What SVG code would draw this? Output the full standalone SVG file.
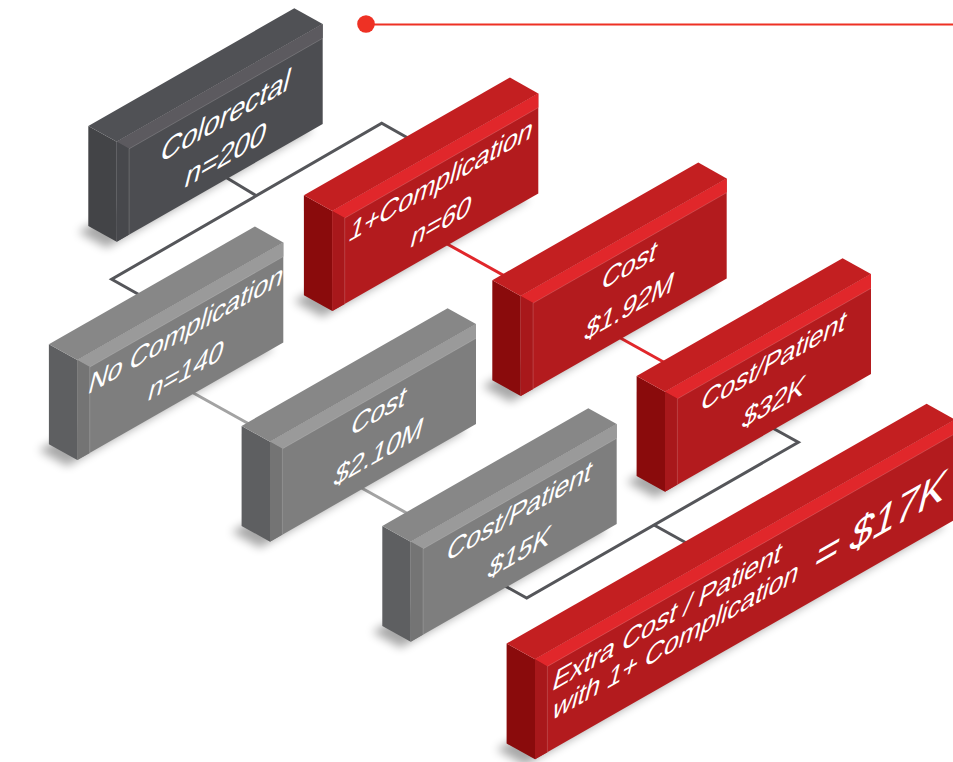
<svg xmlns="http://www.w3.org/2000/svg" width="953" height="762" viewBox="0 0 953 762">
<defs>
<filter id="soft" x="-20%" y="-20%" width="140%" height="140%"><feGaussianBlur stdDeviation="5"/></filter>
<style>
.shadow{fill:#000;opacity:.34;filter:url(#soft)}
.d .lf{fill:#434447}.d .tp{fill:#505155}.d .fr{fill:#4c4d51}.d .bd{fill:#5c5a5f}.d .st{fill:#47484c}
.g .lf{fill:#5e5f61}.g .tp{fill:#878787}.g .fr{fill:#7e7e7e}.g .bd{fill:#9a9a9a}.g .st{fill:#747474}
.r .lf{fill:#8a0b0c}.r .tp{fill:#c31f21}.r .fr{fill:#b31b1e}.r .bd{fill:#e1272b}.r .st{fill:#a8181b}
.edge{fill:none;stroke:#fff;stroke-opacity:.22;stroke-width:.8}
.lbl{font-family:"Liberation Sans",Arial,sans-serif;fill:#fff;text-anchor:middle}
.ls{text-anchor:start}
.conn{fill:none;stroke-width:3;stroke-linejoin:miter}
.cd{stroke:#55565a}.cg{stroke:#a3a3a3}.cr{stroke:#e1272b}
</style>
</defs>
<rect width="953" height="762" fill="#fff"/>

<g id="connectors">
<line x1="366" y1="24.5" x2="953" y2="24.5" stroke="#ee3124" stroke-width="2.2"/>
<circle cx="366" cy="24" r="8.8" fill="#ee3124"/>
<polyline class="conn cd" points="145,298 111.7,279.3 381.7,123.3 415,142"/>
<line class="conn cd" x1="222" y1="175" x2="256.3" y2="195.7"/>
<line class="conn cr" x1="440" y1="240" x2="510" y2="278.9"/>
<line class="conn cr" x1="615" y1="335" x2="668" y2="364.5"/>
<line class="conn cg" x1="188" y1="390" x2="250" y2="424.5"/>
<line class="conn cg" x1="358" y1="486" x2="415" y2="517.7"/>
<polyline class="conn cd" points="768,425.5 798.3,442.3 526.7,598 500,583.2"/>
<line class="conn cd" x1="654" y1="525" x2="690" y2="545"/>
</g>

<g id="colorectal" class="d" transform="translate(116.7,141.7)">
<polygon class="shadow" points="-10,106 196,-11.6 167.6,-27.4 -38.4,90.2"/>
<polygon class="lf" points="-28.4,-15.8 0,0 0,100 -28.4,84.2"/>
<polygon class="tp" points="-28.4,-15.8 177.6,-133.4 206,-117.6 0,0"/>
<polygon class="fr" points="0,0 206,-117.6 206,-17.6 0,100"/>
<polygon class="bd" points="0,0 206,-117.6 206,-103.4 12.4,7.1"/>
<polygon class="st" points="0,0 12.4,7.1 12.4,92.9 0,100"/>
<polyline class="edge" points="12.4,92.9 12.4,7.1 206,-103.4"/>
<text class="lbl" font-size="33" transform="matrix(0.8686,-0.4955,-0.25,1,106.5,-15)">Colorectal</text>
<text class="lbl" font-size="33" transform="matrix(0.8686,-0.4955,-0.25,1,106.5,24)">n=200</text>
</g>

<g id="one-plus-complication" class="r" transform="translate(332.3,211)">
<polygon class="shadow" points="-10,106 196,-11.6 167.6,-27.4 -38.4,90.2"/>
<polygon class="lf" points="-28.4,-15.8 0,0 0,100 -28.4,84.2"/>
<polygon class="tp" points="-28.4,-15.8 177.6,-133.4 206,-117.6 0,0"/>
<polygon class="fr" points="0,0 206,-117.6 206,-17.6 0,100"/>
<polygon class="bd" points="0,0 206,-117.6 206,-103.4 12.4,7.1"/>
<polygon class="st" points="0,0 12.4,7.1 12.4,92.9 0,100"/>
<polyline class="edge" points="12.4,92.9 12.4,7.1 206,-103.4"/>
<text class="lbl" font-size="30.5" transform="matrix(0.8686,-0.4955,-0.25,1,106.5,-20.5)">1+Complication</text>
<text class="lbl" font-size="30.5" transform="matrix(0.8686,-0.4955,-0.25,1,106.5,20.5)">n=60</text>
</g>

<g id="no-complication" class="g" transform="translate(77.3,360)">
<polygon class="shadow" points="-10,106 196,-11.6 167.6,-27.4 -38.4,90.2"/>
<polygon class="lf" points="-28.4,-15.8 0,0 0,100 -28.4,84.2"/>
<polygon class="tp" points="-28.4,-15.8 177.6,-133.4 206,-117.6 0,0"/>
<polygon class="fr" points="0,0 206,-117.6 206,-17.6 0,100"/>
<polygon class="bd" points="0,0 206,-117.6 206,-103.4 12.4,7.1"/>
<polygon class="st" points="0,0 12.4,7.1 12.4,92.9 0,100"/>
<polyline class="edge" points="12.4,92.9 12.4,7.1 206,-103.4"/>
<text class="lbl" font-size="30.5" transform="matrix(0.8686,-0.4955,-0.25,1,106.5,-20.5)">No Complication</text>
<text class="lbl" font-size="30.5" transform="matrix(0.8686,-0.4955,-0.25,1,106.5,20.5)">n=140</text>
</g>

<g id="cost-complication" class="r" transform="translate(520.7,296)">
<polygon class="shadow" points="-10,106 196,-11.6 167.6,-27.4 -38.4,90.2"/>
<polygon class="lf" points="-28.4,-15.8 0,0 0,100 -28.4,84.2"/>
<polygon class="tp" points="-28.4,-15.8 177.6,-133.4 206,-117.6 0,0"/>
<polygon class="fr" points="0,0 206,-117.6 206,-17.6 0,100"/>
<polygon class="bd" points="0,0 206,-117.6 206,-103.4 12.4,7.1"/>
<polygon class="st" points="0,0 12.4,7.1 12.4,92.9 0,100"/>
<polyline class="edge" points="12.4,92.9 12.4,7.1 206,-103.4"/>
<text class="lbl" font-size="30.5" transform="matrix(0.8686,-0.4955,-0.25,1,106.5,-20.5)">Cost</text>
<text class="lbl" font-size="30.5" transform="matrix(0.8686,-0.4955,-0.25,1,106.5,20.5)">$1.92M</text>
</g>

<g id="cost-no-complication" class="g" transform="translate(270,441.7)">
<polygon class="shadow" points="-10,106 196,-11.6 167.6,-27.4 -38.4,90.2"/>
<polygon class="lf" points="-28.4,-15.8 0,0 0,100 -28.4,84.2"/>
<polygon class="tp" points="-28.4,-15.8 177.6,-133.4 206,-117.6 0,0"/>
<polygon class="fr" points="0,0 206,-117.6 206,-17.6 0,100"/>
<polygon class="bd" points="0,0 206,-117.6 206,-103.4 12.4,7.1"/>
<polygon class="st" points="0,0 12.4,7.1 12.4,92.9 0,100"/>
<polyline class="edge" points="12.4,92.9 12.4,7.1 206,-103.4"/>
<text class="lbl" font-size="30.5" transform="matrix(0.8686,-0.4955,-0.25,1,106.5,-20.5)">Cost</text>
<text class="lbl" font-size="30.5" transform="matrix(0.8686,-0.4955,-0.25,1,106.5,20.5)">$2.10M</text>
</g>

<g id="cost-patient-complication" class="r" transform="translate(665,391.7)">
<polygon class="shadow" points="-10,106 196,-11.6 167.6,-27.4 -38.4,90.2"/>
<polygon class="lf" points="-28.4,-15.8 0,0 0,100 -28.4,84.2"/>
<polygon class="tp" points="-28.4,-15.8 177.6,-133.4 206,-117.6 0,0"/>
<polygon class="fr" points="0,0 206,-117.6 206,-17.6 0,100"/>
<polygon class="bd" points="0,0 206,-117.6 206,-103.4 12.4,7.1"/>
<polygon class="st" points="0,0 12.4,7.1 12.4,92.9 0,100"/>
<polyline class="edge" points="12.4,92.9 12.4,7.1 206,-103.4"/>
<text class="lbl" font-size="30.5" transform="matrix(0.8686,-0.4955,-0.25,1,106.5,-20.5)">Cost/Patient</text>
<text class="lbl" font-size="30.5" transform="matrix(0.8686,-0.4955,-0.25,1,106.5,20.5)">$32K</text>
</g>

<g id="cost-patient-no-complication" class="g" transform="translate(410.7,541.7)">
<polygon class="shadow" points="-10,106 196,-11.6 167.6,-27.4 -38.4,90.2"/>
<polygon class="lf" points="-28.4,-15.8 0,0 0,100 -28.4,84.2"/>
<polygon class="tp" points="-28.4,-15.8 177.6,-133.4 206,-117.6 0,0"/>
<polygon class="fr" points="0,0 206,-117.6 206,-17.6 0,100"/>
<polygon class="bd" points="0,0 206,-117.6 206,-103.4 12.4,7.1"/>
<polygon class="st" points="0,0 12.4,7.1 12.4,92.9 0,100"/>
<polyline class="edge" points="12.4,92.9 12.4,7.1 206,-103.4"/>
<text class="lbl" font-size="30.5" transform="matrix(0.8686,-0.4955,-0.25,1,106.5,-20.5)">Cost/Patient</text>
<text class="lbl" font-size="30.5" transform="matrix(0.8686,-0.4955,-0.25,1,106.5,20.5)">$15K</text>
</g>

<g id="extra-cost" class="r" transform="translate(535,659.3)">
<polygon class="shadow" points="-10,106 410,-133.8 381.6,-149.6 -38.4,90.2"/>
<polygon class="lf" points="-28.4,-15.8 0,0 0,100 -28.4,84.2"/>
<polygon class="tp" points="-28.4,-15.8 391.6,-255.6 420,-239.8 0,0"/>
<polygon class="fr" points="0,0 420,-239.8 420,-139.8 0,100"/>
<polygon class="bd" points="0,0 420,-239.8 420,-225.6 12.4,7.1"/>
<polygon class="st" points="0,0 12.4,7.1 12.4,92.9 0,100"/>
<polyline class="edge" points="12.4,92.9 12.4,7.1 420,-225.6"/>
<text class="lbl ls" font-size="30.5" transform="matrix(0.8686,-0.4955,-0.25,1,16,32.4)">Extra Cost / Patient</text>
<text class="lbl ls" font-size="30.5" transform="matrix(0.8686,-0.4955,-0.25,1,16,61.4)">with 1+ Complication</text>
<text class="lbl ls" font-size="47" transform="matrix(0.8686,-0.4955,-0.25,1,277,-85.5)">= $17K</text>
</g>
</svg>
